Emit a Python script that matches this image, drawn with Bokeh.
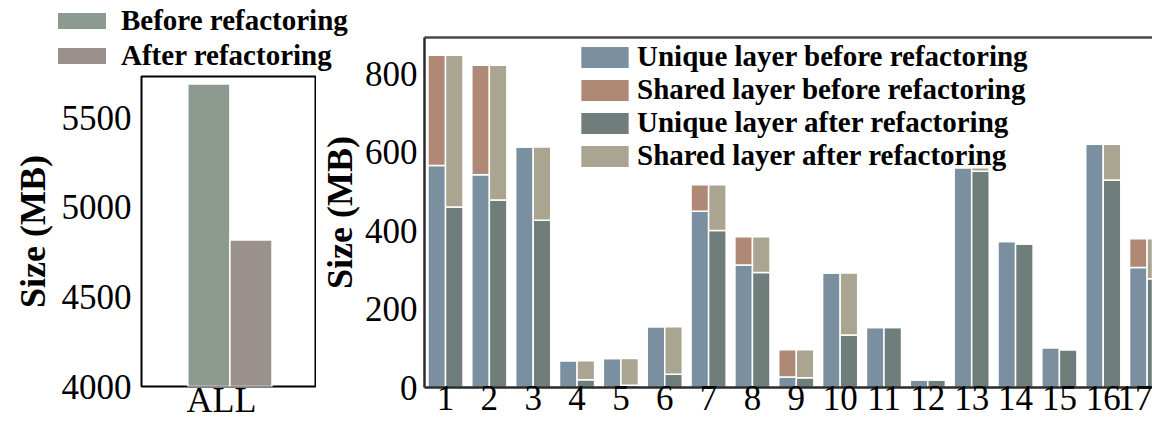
from bokeh.plotting import figure
from bokeh.models import (Range1d, FixedTicker, Legend, LegendItem, LinearAxis,
                          ColumnDataSource, Div)
from bokeh.layouts import row, column
from bokeh.transform import dodge
from bokeh.embed import file_html
from bokeh.resources import INLINE

# ---------------- data ----------------
# left panel (total size of all images)
all_label = ["ALL"]
left_series = ["Before refactoring", "After refactoring"]
total_before = [5688]
total_after = [4817]
left_yticks = [4000, 4500, 5000, 5500]

# right panel (per image)
images = list(range(1, 18))
right_series = ["Unique layer before refactoring", "Shared layer before refactoring",
                "Unique layer after refactoring", "Shared layer after refactoring"]
unique_before = [566, 542, 613, 68, 74, 155, 449, 312, 27, 292, 153, 19, 560, 372, 101, 620, 306]
shared_before = [281, 279, 0, 0, 0, 0, 68, 72, 69, 0, 0, 0, 0, 0, 0, 0, 73]
unique_after = [460, 478, 426, 20, 6, 34, 400, 293, 25, 134, 153, 19, 551, 366, 96, 529, 277]
shared_after = [387, 343, 187, 48, 68, 121, 117, 91, 71, 158, 0, 0, 9, 0, 0, 91, 102]
right_yticks = [0, 200, 400, 600, 800]

# ---------------- style ----------------
FONT = "Liberation Serif"
C_BEFORE = "#8c9a8f"
C_AFTER = "#9b918c"
C_UB = "#7a8fa0"
C_SB = "#b08876"
C_UA = "#6f7d7b"
C_SA = "#aaa591"
TICK_FS = "35px"
LABEL_FS = "36px"
LEG_FS = "29px"


def style_axes(p):
    for ax in (p.xaxis[0], p.yaxis[0]):
        ax.major_tick_line_color = None
        ax.major_tick_out = 0
        ax.major_tick_in = 0
        ax.minor_tick_line_color = None
        ax.minor_tick_out = 0
        ax.major_label_text_font = FONT
        ax.major_label_text_font_size = TICK_FS
        ax.major_label_text_color = "black"
        ax.axis_label_text_font = FONT
        ax.axis_label_text_font_size = LABEL_FS
        ax.axis_label_text_font_style = "bold"
        ax.axis_label_text_color = "black"
    p.xgrid.grid_line_color = None
    p.ygrid.grid_line_color = None


# ---------------- left legend (HTML) ----------------
rows_html = ""
for i, (lab, col) in enumerate(zip(left_series, [C_BEFORE, C_AFTER])):
    gap = "margin-bottom:9px;" if i == 0 else ""
    rows_html += (
        f'<div style="height:26px;display:flex;align-items:center;{gap}">'
        f'<span style="display:inline-block;width:48px;height:16px;'
        f'background:{col};margin-right:15px;flex:none;"></span>'
        f'<span style="line-height:1.1;">{lab}</span></div>'
    )
legend_html = (
    f'<div style="font-family:\'{FONT}\';font-weight:bold;font-size:{LEG_FS};'
    f'color:black;white-space:nowrap;padding-left:58px;padding-top:8px;margin:0;">'
    f'{rows_html}</div>'
)
left_legend_div = Div(text=legend_html, width=316, height=74, margin=0,
                      styles={"overflow": "visible"},
                      stylesheets=[":host { overflow: visible !important; }"
                                   " .bk-clearfix { overflow: visible !important; }"])

# ---------------- left figure ----------------
left = figure(width=316, height=348, x_range=Range1d(-0.46, 0.54),
              y_range=Range1d(4000, 5730), output_backend="svg",
              toolbar_location=None, min_border_left=141, min_border_right=1,
              min_border_top=2, min_border_bottom=35, frame_align=False,
              margin=0, border_fill_color=None)
left_src = ColumnDataSource(dict(x=[0], before=total_before, after=total_after))
rb = left.vbar(x=dodge("x", -0.073), width=0.242, bottom=4000, top="before",
               source=left_src, fill_color=C_BEFORE, line_color="white", line_width=1.5)
ra = left.vbar(x=dodge("x", 0.169), width=0.242, bottom=4000, top="after",
               source=left_src, fill_color=C_AFTER, line_color="white", line_width=1.5)
style_axes(left)
left.xaxis.ticker = FixedTicker(ticks=[0])
left.xaxis.major_label_overrides = {0: all_label[0]}
left.xaxis.major_label_text_font_size = "36px"
left.yaxis.ticker = FixedTicker(ticks=left_yticks)
left.yaxis.axis_label = "Size (MB)"
left.yaxis.major_label_standoff = 10
left.yaxis.axis_label_standoff = 6
left.xaxis.major_label_standoff = -7
left.xaxis.axis_line_color = None
left.yaxis.axis_line_color = None
left.outline_line_color = "black"
left.outline_line_width = 2
left.outline_line_alpha = 1

# ---------------- right figure ----------------
right = figure(width=836, height=422, x_range=Range1d(0.521, 17.123),
               y_range=Range1d(0, 892), output_backend="svg",
               toolbar_location=None, min_border_left=108, min_border_right=0,
               min_border_top=37, min_border_bottom=35, frame_align=False,
               margin=0, border_fill_color=None)
src = ColumnDataSource(dict(
    x=images,
    ub=unique_before,
    b_top=[u + s for u, s in zip(unique_before, shared_before)],
    ua=unique_after,
    a_top=[u + s for u, s in zip(unique_after, shared_after)],
))
r_ub = right.vbar(x=dodge("x", -0.2), width=0.4, bottom=0, top="ub", source=src,
                  fill_color=C_UB, line_color="white", line_width=1.5)
r_sb = right.vbar(x=dodge("x", -0.2), width=0.4, bottom="ub", top="b_top", source=src,
                  fill_color=C_SB, line_color="white", line_width=1.5)
r_ua = right.vbar(x=dodge("x", 0.2), width=0.4, bottom=0, top="ua", source=src,
                  fill_color=C_UA, line_color="white", line_width=1.5)
r_sa = right.vbar(x=dodge("x", 0.2), width=0.4, bottom="ua", top="a_top", source=src,
                  fill_color=C_SA, line_color="white", line_width=1.5)
style_axes(right)
right.xaxis.ticker = FixedTicker(ticks=images)
right.yaxis.ticker = FixedTicker(ticks=right_yticks)
right.yaxis.axis_label = "Size (MB)"
right.yaxis.major_label_standoff = 7
right.yaxis.axis_label_standoff = 2
right.xaxis.major_label_standoff = -2
for ax in (right.xaxis[0], right.yaxis[0]):
    ax.axis_line_color = "#2b2b2b"
    ax.axis_line_width = 2.5
right.outline_line_color = None

top_axis = LinearAxis(ticker=FixedTicker(ticks=[]), major_tick_line_color=None,
                      major_tick_out=0, minor_tick_out=0,
                      minor_tick_line_color=None, major_label_text_font_size="0px",
                      axis_line_color="#4a4a4a", axis_line_width=2.5)
right.add_layout(top_axis, "above")

right_legend = Legend(items=[LegendItem(label=lab, renderers=[r])
                             for lab, r in zip(right_series, [r_ub, r_sb, r_ua, r_sa])],
                      location=(150, 215), padding=0, margin=0, spacing=0,
                      glyph_width=61, glyph_height=28, label_standoff=2,
                      label_text_font=FONT, label_text_font_size=LEG_FS,
                      label_text_font_style="bold", label_text_color="black",
                      border_line_color=None, background_fill_alpha=0)
right.add_layout(right_legend)

layout = row(column(left_legend_div, left, margin=0), right, margin=0)
open("out.html", "w").write(file_html(layout, INLINE))
